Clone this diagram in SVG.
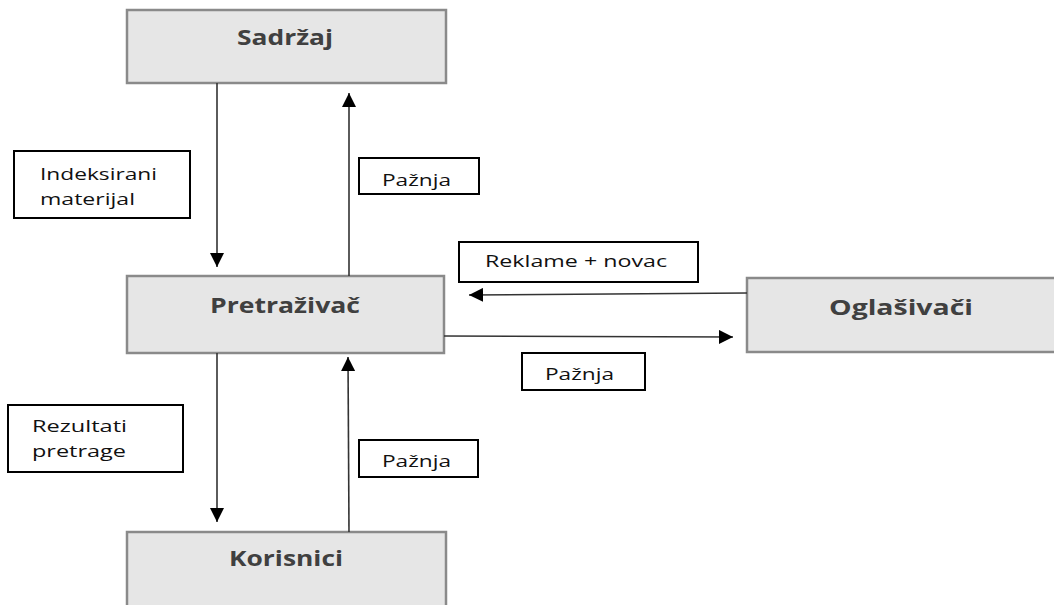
<svg xmlns="http://www.w3.org/2000/svg" width="1054" height="605" viewBox="0 0 1054 605">
<style>
.node rect{fill:#e6e6e6;stroke:#8a8a8a;stroke-width:2.5}
.node text{font-family:"Open Sans","Liberation Sans",sans-serif;font-weight:bold;font-size:21px;fill:#404040}
.lbl rect{fill:#fff;stroke:#000;stroke-width:2}
.lbl text{font-family:"Open Sans","Liberation Sans",sans-serif;font-size:17px;fill:#111}
.conn line{stroke:#333;stroke-width:1.6;fill:none}
</style>
<defs>
<marker id="ah" markerUnits="userSpaceOnUse" markerWidth="14" markerHeight="14" refX="14" refY="7" orient="auto">
<path d="M0,0 L14,7 L0,14 Z" fill="#000"/>
</marker>
</defs>
<rect width="1054" height="605" fill="#fff"/>
<g id="sadrzaj" class="node"><rect x="127" y="10" width="319" height="73"/><text x="237" y="45" textLength="96" lengthAdjust="spacingAndGlyphs">Sadržaj</text></g>
<g id="pretrazivac" class="node"><rect x="127" y="276" width="317" height="77"/><text x="210" y="313" textLength="150" lengthAdjust="spacingAndGlyphs">Pretraživač</text></g>
<g id="korisnici" class="node"><rect x="127" y="532" width="319" height="80"/><text x="229" y="566" textLength="114" lengthAdjust="spacingAndGlyphs">Korisnici</text></g>
<g id="oglasivaci" class="node"><rect x="747" y="278" width="320" height="74"/><text x="829" y="315" textLength="144" lengthAdjust="spacingAndGlyphs">Oglašivači</text></g>
<g id="connectors" class="conn">
<line x1="217" y1="83" x2="217" y2="267" marker-end="url(#ah)"/>
<line x1="349" y1="276" x2="349" y2="93" marker-end="url(#ah)"/>
<line x1="217" y1="353" x2="217" y2="522" marker-end="url(#ah)"/>
<line x1="349" y1="532" x2="348" y2="357" marker-end="url(#ah)"/>
<line x1="747" y1="293" x2="469" y2="295" marker-end="url(#ah)"/>
<line x1="444" y1="336" x2="733" y2="337" marker-end="url(#ah)"/>
</g>
<g id="lbl-indeksirani" class="lbl"><rect x="14" y="151" width="176" height="67"/><text x="40" y="180" textLength="117" lengthAdjust="spacingAndGlyphs">Indeksirani</text><text x="40" y="205" textLength="95" lengthAdjust="spacingAndGlyphs">materijal</text></g>
<g id="lbl-paznja1" class="lbl"><rect x="359" y="158" width="120" height="36"/><text x="382" y="186" textLength="69" lengthAdjust="spacingAndGlyphs">Pažnja</text></g>
<g id="lbl-reklame" class="lbl"><rect x="459" y="242" width="239" height="40"/><text x="485" y="267" textLength="182" lengthAdjust="spacingAndGlyphs">Reklame + novac</text></g>
<g id="lbl-paznja2" class="lbl"><rect x="522" y="353" width="123" height="37"/><text x="545" y="380" textLength="69" lengthAdjust="spacingAndGlyphs">Pažnja</text></g>
<g id="lbl-rezultati" class="lbl"><rect x="8" y="405" width="175" height="67"/><text x="32" y="432" textLength="95" lengthAdjust="spacingAndGlyphs">Rezultati</text><text x="32" y="457" textLength="94" lengthAdjust="spacingAndGlyphs">pretrage</text></g>
<g id="lbl-paznja3" class="lbl"><rect x="359" y="440" width="119" height="37"/><text x="382" y="467" textLength="69" lengthAdjust="spacingAndGlyphs">Pažnja</text></g>
</svg>
